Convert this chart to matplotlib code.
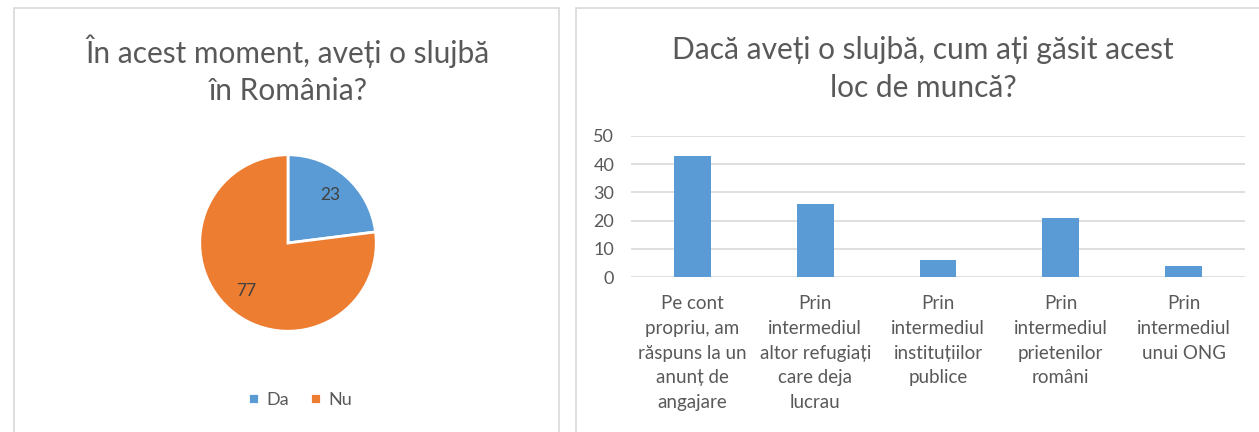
import matplotlib.pyplot as plt
from matplotlib.patches import Rectangle

plt.rcParams['font.family'] = ['Lato', 'DejaVu Sans']

TXT = "#595959"
GRID = "#d9d9d9"
BLUE = "#5b9bd5"
ORANGE = "#ed7d31"

# left panel: pie
pie_labels = ["Da", "Nu"]
pie_values = [23, 77]
pie_title = "În acest moment, aveți o slujbă\nîn România?"

# right panel: bars
bar_categories = [
    "Pe cont\npropriu, am\nrăspuns la un\nanunț de\nangajare",
    "Prin\nintermediul\naltor refugiați\ncare deja\nlucrau",
    "Prin\nintermediul\ninstituțiilor\npublice",
    "Prin\nintermediul\nprietenilor\nromâni",
    "Prin\nintermediul\nunui ONG",
]
bar_values = [43, 26, 6, 21, 4]
bar_ticks = [0, 10, 20, 30, 40, 50]
bar_title = "Dacă aveți o slujbă, cum ați găsit acest\nloc de muncă?"

W, H = 1259, 432
fig = plt.figure(figsize=(W / 100, H / 100), dpi=100)
fig.patch.set_facecolor("white")


def px(x0, y0, x1, y1):
    # pixel box (top-left origin) -> figure rect
    return [x0 / W, (H - y1) / H, (x1 - x0) / W, (y1 - y0) / H]


# panel frames
fig.patches.append(Rectangle((14 / W, -0.05), (559 - 14) / W, (H - 8) / H + 0.05,
                             transform=fig.transFigure, fill=False,
                             edgecolor=GRID, lw=1.2))
fig.patches.append(Rectangle((576 / W, -0.05), 0.6, (H - 8) / H + 0.05,
                             transform=fig.transFigure, fill=False,
                             edgecolor=GRID, lw=1.2))

# titles
fig.text(288 / W, 1 - 70 / H, pie_title, ha="center", va="center",
         fontsize=21.5, color=TXT, linespacing=1.4)
fig.text(923 / W, 1 - 69 / H, bar_title, ha="center", va="center",
         fontsize=21.5, color=TXT, linespacing=1.4)

# pie
ax1 = fig.add_axes(px(198, 153, 378, 333))
wedges, texts, autotexts = ax1.pie(
    pie_values, colors=[BLUE, ORANGE], startangle=90, counterclock=False,
    autopct=lambda p: f"{p:.0f}", pctdistance=0.72,
    wedgeprops=dict(edgecolor="white", linewidth=2))
for t in autotexts:
    t.set_color("#404040")
    t.set_fontsize(12.5)
ax1.set_xlim(-1.02, 1.02)
ax1.set_ylim(-1.02, 1.02)
ax1.set_aspect("equal")
ax1.axis("off")

fig.legend(wedges, pie_labels, loc="center", bbox_to_anchor=(300 / W, 1 - 400 / H),
           ncol=2, frameon=False, fontsize=13, labelcolor=TXT,
           handlelength=0.6, handleheight=0.6, handletextpad=0.4, columnspacing=1.2)

# bars
ax2 = fig.add_axes(px(631, 135.7, 1245, 277.3))
x = range(len(bar_values))
ax2.bar(x, bar_values, width=0.3, color=BLUE, zorder=3)
ax2.set_xlim(-0.5, len(bar_values) - 0.5)
ax2.set_ylim(0, 50)
ax2.set_yticks(bar_ticks)
ax2.yaxis.grid(True, color=GRID, lw=1.2, zorder=0)
ax2.set_xticks(list(x))
ax2.set_xticklabels(bar_categories, fontsize=13.5, color=TXT, linespacing=1.55, va="top")
ax2.tick_params(axis="y", labelsize=13, labelcolor=TXT, length=0, pad=12)
ax2.tick_params(axis="x", length=0, pad=13)
for s in ax2.spines.values():
    s.set_visible(False)

fig.savefig("out.png", dpi=100, facecolor="white")
